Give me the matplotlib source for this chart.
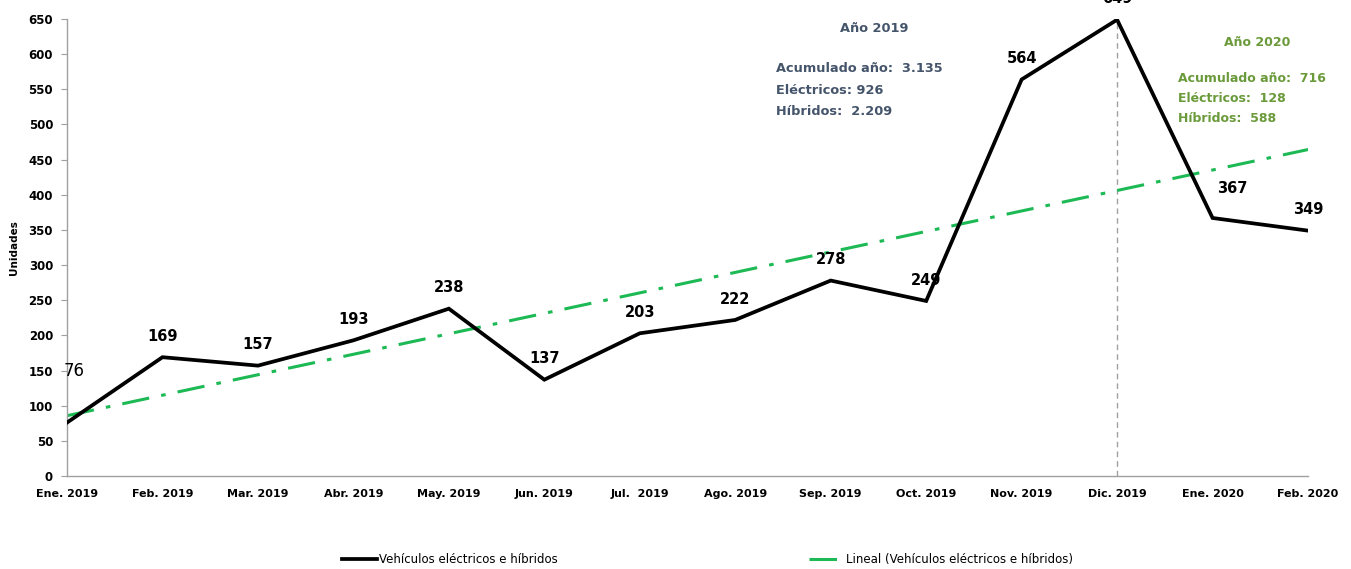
import numpy as np
import matplotlib
matplotlib.use("Agg")
import matplotlib.pyplot as plt

plt.rcParams['font.family'] = ['DejaVu Sans']

# Data
months = ["Ene. 2019", "Feb. 2019", "Mar. 2019", "Abr. 2019", "May. 2019", "Jun. 2019",
          "Jul.  2019", "Ago. 2019", "Sep. 2019", "Oct. 2019", "Nov. 2019", "Dic. 2019",
          "Ene. 2020", "Feb. 2020"]
units = [76, 169, 157, 193, 238, 137, 203, 222, 278, 249, 564, 649, 367, 349]

series_name = "Vehículos eléctricos e híbridos"
trend_name = "Lineal (Vehículos eléctricos e híbridos)"

text_2019 = ["Acumulado año:  3.135", "Eléctricos: 926", "Híbridos:  2.209"]
text_2020 = ["Acumulado año:  716", "Eléctricos:  128", "Híbridos:  588"]

x = np.arange(len(units))

fig = plt.figure(figsize=(13.51, 5.69), dpi=100)
ax = fig.add_axes([0.0496, 0.1634, 0.9186, 0.8032])

# Main series
line_main, = ax.plot(x, units, color="black", linewidth=2.7, solid_joinstyle="miter",
                     label=series_name, zorder=3)

# Linear trend line
coef = np.polyfit(x, units, 1)
line_trend, = ax.plot(x, np.polyval(coef, x), color="#1DB954", linewidth=2.2,
                      dashes=(9, 4, 1.5, 4), label=trend_name, zorder=2)

# Vertical marker at the peak (Dic. 2019)
peak = int(np.argmax(units))
ax.plot([x[peak], x[peak]], [0, units[peak]], color="#A0A0A0", linewidth=1.0,
        linestyle=(0, (4, 3)), zorder=1)

# Value labels (a couple of them were moved by hand in the original)
for i, v in enumerate(units):
    dx, dy, weight, size = 0, 15, "bold", 10.5
    if i == 0:
        dx, dy, weight, size = 5, 37, "normal", 12
    elif i == 12:
        dx, dy = 14, 21.5
    ax.annotate(str(v), (x[i], v), xytext=(dx, dy), textcoords="offset points",
                ha="center", va="center", fontsize=size, fontweight=weight,
                color="black", annotation_clip=False)

# Text boxes
blue = "#44546A"
green = "#6A9A3A"
ax.text(8.46, 637, "Año 2019", color=blue, fontsize=9.3, fontweight="bold", ha="center", va="center")
for k, t in enumerate(text_2019):
    ax.text(7.43, 579 - k * 30, t, color=blue, fontsize=9.3, fontweight="bold", ha="left", va="center")
ax.text(12.47, 617, "Año 2020", color=green, fontsize=9, fontweight="bold", ha="center", va="center")
for k, t in enumerate(text_2020):
    ax.text(11.64, 566 - k * 28.5, t, color=green, fontsize=9, fontweight="bold", ha="left", va="center")

# Axes styling
ax.set_xlim(0, len(units) - 1)
ax.set_ylim(0, 650)
ax.set_yticks(np.arange(0, 651, 50))
ax.set_xticks(x)
ax.set_xticklabels(months)
ax.set_xticks(x[::2], minor=True)
ax.tick_params(axis="x", which="major", length=0, pad=9, labelsize=8)
ax.tick_params(axis="x", which="minor", length=5, direction="inout", color="#A0A0A0")
ax.tick_params(axis="y", length=4, color="#A0A0A0", labelsize=8.5, pad=6)
for lab in ax.get_xticklabels() + ax.get_yticklabels():
    lab.set_fontweight("bold")
for s in ["top", "right"]:
    ax.spines[s].set_visible(False)
for s in ["left", "bottom"]:
    ax.spines[s].set_color("#A0A0A0")
    ax.spines[s].set_linewidth(1.0)

ax.set_ylabel("Unidades", fontsize=7.5, fontweight="bold", labelpad=7)

fig.legend([line_main], [series_name], loc="center left",
           bbox_to_anchor=(331 / 1351, 0.016), frameon=False, fontsize=8.5,
           handlelength=3, handletextpad=0.2)
fig.legend([line_trend], [trend_name], loc="center left",
           bbox_to_anchor=(798 / 1351, 0.016), frameon=False, fontsize=8.5,
           handlelength=3, handletextpad=0.2)

fig.savefig("out.png", dpi=100)
